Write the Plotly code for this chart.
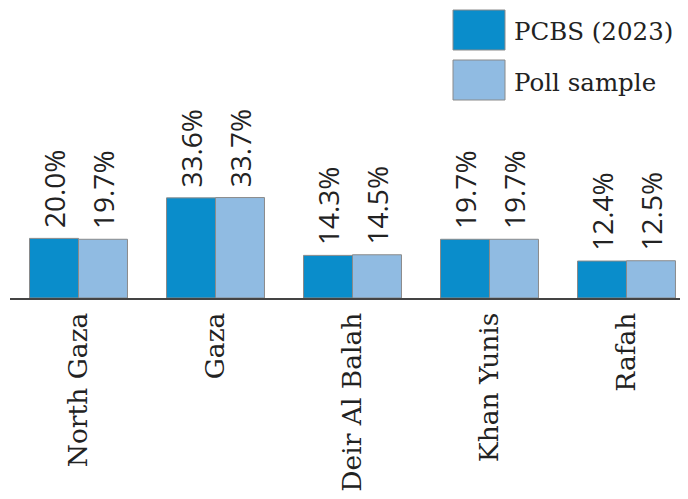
import plotly.graph_objects as go

categories = ["North Gaza", "Gaza", "Deir Al Balah", "Khan Yunis", "Rafah"]
pcbs_2023 = [20.0, 33.6, 14.3, 19.7, 12.4]
poll_sample = [19.7, 33.7, 14.5, 19.7, 12.5]
series_names = ["PCBS (2023)", "Poll sample"]

colors = ["#0a8dcb", "#90bbe2"]
serif = "DejaVu Serif"
sans = "Open Sans"

# page body has an 8px margin; figure is sized to fit the window
OFF = 8
PLOT_H = 290.0
PLOT_W = 678.0
LEFT_PAGE = 10.0


def px_x(page_x):
    return (page_x - LEFT_PAGE) / PLOT_W


def px_y(page_y):
    return 1 - (page_y - OFF) / PLOT_H


fig = go.Figure()
for name, vals, col in zip(series_names, [pcbs_2023, poll_sample], colors):
    fig.add_trace(go.Bar(
        x=categories, y=vals, name=name,
        marker=dict(color=col, line=dict(color="#8a8a8a", width=1)),
        text=["\u00a0" + f"{v:.1f}%" for v in vals],
        textposition="outside", textangle=-90,
        textfont=dict(family=sans, size=28, color="#222"),
        constraintext="none", cliponaxis=False,
        showlegend=False,
    ))

# custom legend (large swatches)
for i, (name, col) in enumerate(zip(series_names, colors)):
    top = 10 + i * 50
    fig.add_shape(type="rect", xref="paper", yref="paper",
                  x0=px_x(453), x1=px_x(505),
                  y0=px_y(top + 40), y1=px_y(top),
                  fillcolor=col, line=dict(color="#8a8a8a", width=1))
    fig.add_annotation(xref="paper", yref="paper",
                       x=px_x(512), y=px_y(top + 22),
                       xanchor="left", yanchor="middle", showarrow=False,
                       text=name, font=dict(family=serif, size=24.5, color="#222"))

fig.update_layout(
    width=680, height=483,
    margin=dict(l=2, r=0, t=0, b=193, pad=0, autoexpand=False),
    paper_bgcolor="white", plot_bgcolor="white",
    barmode="group", bargap=0.285, bargroupgap=0,
    xaxis=dict(range=[-0.5, 4.449], showline=True, linecolor="#444", linewidth=2,
               ticks="", tickangle=-90, tickfont=dict(family=serif, size=26.5, color="#222"),
               ticklabelstandoff=2, automargin=False),
    yaxis=dict(range=[0, 97.3], visible=False, automargin=False),
)
fig.write_html("out.html")
